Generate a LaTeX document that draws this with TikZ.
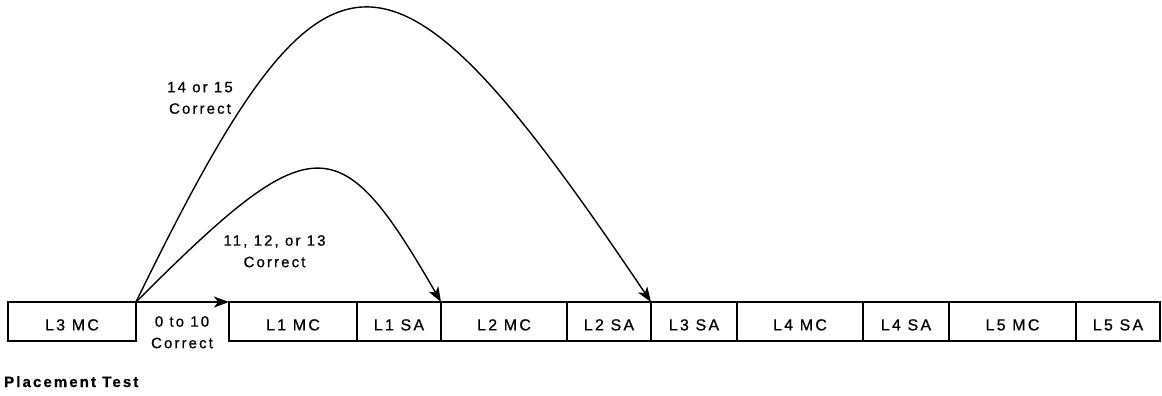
\documentclass[tikz,border=0pt]{standalone}
\usepackage{fontspec}
\setmainfont{Liberation Sans}[LetterSpace=14, FakeBold=0.7]
\usetikzlibrary{arrows.meta}
\tikzset{
  box/.style={draw, line width=2pt, outer sep=0pt, inner sep=0pt, minimum height=39pt,
    anchor=north west, text height=17.8pt, text depth=0pt,
    font=\fontsize{16}{21.5}\selectfont},
  lbl/.style={inner sep=0pt, align=center, anchor=north, font=\fontsize{15}{21.5}\selectfont},
  conn/.style={line width=1.4pt, -{Stealth[length=15pt,width=11pt,inset=4pt]}}
}
\begin{document}
\begin{tikzpicture}[x=1pt,y=1pt]
\useasboundingbox (0,0) rectangle (1162,-396);
% boxes
\node[box, minimum width=128pt] (l3mc) at (8,-302) {L3 MC};
\node[box, minimum width=128pt] (l1mc) at (229,-302) {L1 MC};
\node[box, minimum width=84pt]  (l1sa) at (357,-302) {L1 SA};
\node[box, minimum width=126pt] (l2mc) at (441,-302) {L2 MC};
\node[box, minimum width=84pt]  (l2sa) at (567,-302) {L2 SA};
\node[box, minimum width=86pt]  (l3sa) at (651,-302) {L3 SA};
\node[box, minimum width=126pt] (l4mc) at (737,-302) {L4 MC};
\node[box, minimum width=86pt]  (l4sa) at (863,-302) {L4 SA};
\node[box, minimum width=127pt] (l5mc) at (949,-302) {L5 MC};
\node[box, minimum width=84pt]  (l5sa) at (1076,-302) {L5 SA};
% labels
\node[lbl] (t0) at (182,-316) {0 to 10\\Correct};
\node[lbl] (t14) at (200,-81.7) {14 or 15\\Correct};
\node[lbl] (t11) at (274.5,-235) {11, 12, or 13\\Correct};
\node[inner sep=0pt, anchor=base west, font=\fontsize{15}{18}\selectfont\bfseries] (pt) at (4,-387) {Placement Test};
% connectors
\draw[conn] (l3mc.north east) -- (l1mc.north west);
\draw[conn] (l3mc.north east) .. controls +(177,177) and +(-102,177) .. (l2mc.north west);
\draw[conn] (l3mc.north east) .. controls +(191,392) and +(-264,392) .. (l3sa.north west);
\end{tikzpicture}
\end{document}
